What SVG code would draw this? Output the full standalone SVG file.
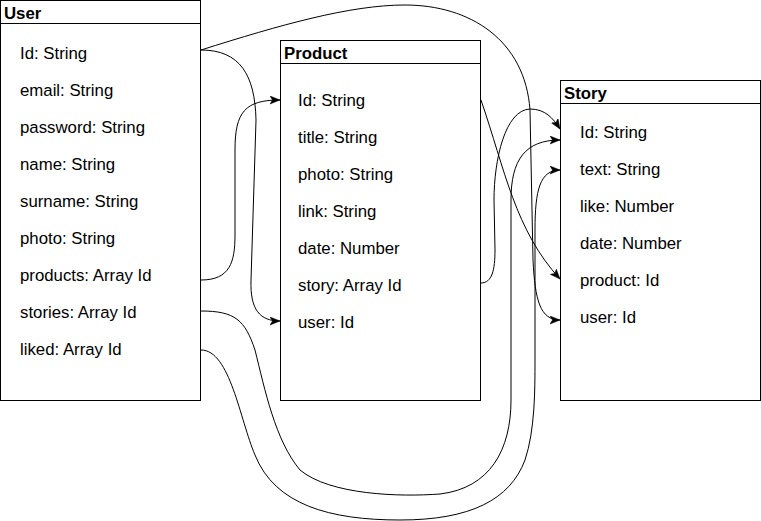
<svg xmlns="http://www.w3.org/2000/svg" width="761" height="521" viewBox="0 0 761 521">
<style>
.box{fill:#fff;stroke:#000;stroke-width:1}
.hdr{font-family:"Liberation Sans",Arial,sans-serif;font-size:16.8px;font-weight:bold;fill:#000}
.row{font-family:"Liberation Sans",Arial,sans-serif;font-size:16.8px;fill:#000}
.edge{fill:none;stroke:#000;stroke-width:1}
</style>
<defs>
<marker id="arr" markerUnits="userSpaceOnUse" markerWidth="12" markerHeight="10" refX="10" refY="4" orient="auto">
<path d="M0,0 L10,4 L0,8 L2.5,4 Z" fill="#000" stroke="#000" stroke-width="0.5"/>
</marker>
</defs>
<rect width="761" height="521" fill="#fff"/>
<g id="user">
<rect class="box" x="0.5" y="0.5" width="200" height="400"/>
<line class="box" x1="0.5" y1="23.5" x2="200.5" y2="23.5"/>
<text class="hdr" x="4" y="19">User</text>
<text class="row" x="20" y="59">Id: String</text>
<text class="row" x="20" y="96">email: String</text>
<text class="row" x="20" y="133">password: String</text>
<text class="row" x="20" y="170">name: String</text>
<text class="row" x="20" y="207">surname: String</text>
<text class="row" x="20" y="244">photo: String</text>
<text class="row" x="20" y="281">products: Array Id</text>
<text class="row" x="20" y="318">stories: Array Id</text>
<text class="row" x="20" y="355">liked: Array Id</text>
</g>
<g id="product">
<rect class="box" x="280.5" y="40.5" width="200" height="360"/>
<line class="box" x1="280.5" y1="63.5" x2="480.5" y2="63.5"/>
<text class="hdr" x="284" y="59">Product</text>
<text class="row" x="298" y="106">Id: String</text>
<text class="row" x="298" y="143">title: String</text>
<text class="row" x="298" y="180">photo: String</text>
<text class="row" x="298" y="217">link: String</text>
<text class="row" x="298" y="254">date: Number</text>
<text class="row" x="298" y="291">story: Array Id</text>
<text class="row" x="298" y="328">user: Id</text>
</g>
<g id="story">
<rect class="box" x="560.5" y="80.5" width="200" height="320"/>
<line class="box" x1="560.5" y1="103.5" x2="760.5" y2="103.5"/>
<text class="hdr" x="564" y="99">Story</text>
<text class="row" x="580" y="138">Id: String</text>
<text class="row" x="580" y="175">text: String</text>
<text class="row" x="580" y="212">like: Number</text>
<text class="row" x="580" y="249">date: Number</text>
<text class="row" x="580" y="286">product: Id</text>
<text class="row" x="580" y="323">user: Id</text>
</g>
<g id="connectors">
<path class="edge" marker-end="url(#arr)" d="M201,50 C240,50 255,75 256,120 L251,280 C250,310 260,321 280,321"/>
<path class="edge" marker-end="url(#arr)" d="M201,280 C230,280 235,262 235,235 L235,150 C235,112 245,100 280,100"/>
<path class="edge" marker-end="url(#arr)" d="M201,50 C280,25 350,5 405,5 C470,5 525,40 530,110 L533,260 C535,300 540,320 560,320"/>
<path class="edge" marker-end="url(#arr)" d="M201,311 C235,311 245,320 255,350 C265,390 275,440 300,470 C330,495 400,497 440,494 C490,488 511,450 511,400 L511,200 C511,160 525,140 560,140"/>
<path class="edge" marker-end="url(#arr)" d="M201,350 C230,350 240,420 255,455 C275,505 330,520 400,520 C470,520 510,500 525,460 C535,430 535,390 535,360 L535,230 C535,190 540,170 560,170"/>
<path class="edge" marker-end="url(#arr)" d="M481,283 C492,283 495,270 495,250 L494,200 C494,160 505,110 530,109 C545,109 553,118 560,129"/>
<path class="edge" marker-end="url(#arr)" d="M481,100 C505,170 515,230 560,279"/>
</g>
</svg>
